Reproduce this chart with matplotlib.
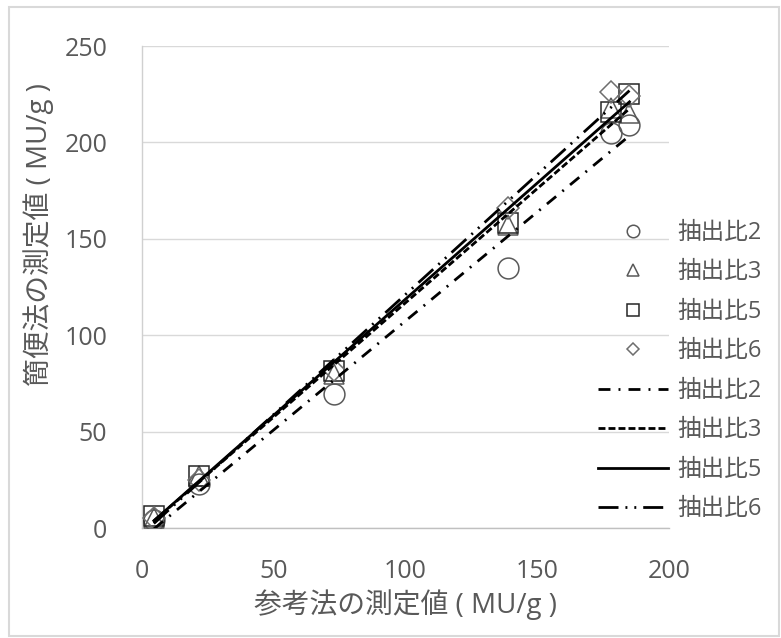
import numpy as np
import matplotlib
matplotlib.use("Agg")
import matplotlib.pyplot as plt
from matplotlib.patches import Rectangle

plt.rcParams['font.family'] = ['Open Sans', 'Noto Sans CJK JP', 'DejaVu Sans']

# Data
ref_x = [4.5, 21.5, 73, 139, 178, 185]
series_names = ["抽出比2", "抽出比3", "抽出比5", "抽出比6"]
y_ratio2 = [4, 23, 69.5, 135, 205, 209]
y_ratio3 = [5, 27, 80, 157, 218, 215]
y_ratio5 = [6, 27, 81.5, 158, 216, 225]
y_ratio6 = [5, 25, 82, 166, 226, 224]
x_ticks = [0, 50, 100, 150, 200]
y_ticks = [0, 50, 100, 150, 200, 250]
x_label = "参考法の測定値 ( MU/g )"
y_label = "簡便法の測定値 ( MU/g )"

series = [y_ratio2, y_ratio3, y_ratio5, y_ratio6]
markers = ['o', '^', 's', 'D']
msizes = [15, 14, 14, 11]
mcolors = ['#595959', '#595959', '#262626', '#6e6e6e']
lw = 2.0
linestyles = [(0, (4.3, 2.9, 0.7, 2.9)),
              (0, (2.5, 1.1)),
              '-',
              (0, (7.2, 2.5, 0.7, 2.5, 0.7, 2.5))]

W, H = 781, 638
fig = plt.figure(figsize=(W / 100, H / 100), dpi=100)
ax = fig.add_axes([142 / W, 1 - 528 / H, (669 - 142) / W, (528 - 46) / H])

text_color = '#595959'
x = np.array(ref_x)

handles_m = []
for ys, m, ms, mc, name in zip(series, markers, msizes, mcolors, series_names):
    h, = ax.plot(x, ys, linestyle='none', marker=m, markersize=ms,
                 markerfacecolor='none', markeredgecolor=mc, markeredgewidth=1.1,
                 label=name, zorder=3)
    handles_m.append(h)

handles_l = []
for ys, ls, name in zip(series, linestyles, series_names):
    k, b = np.polyfit(x, ys, 1)
    xx = np.array([x.min(), x.max()])
    h, = ax.plot(xx, k * xx + b, color='black', linestyle=ls, linewidth=lw,
                 label=name, zorder=4)
    handles_l.append(h)

ax.set_xlim(0, 200)
ax.set_ylim(0, 250)
ax.set_xticks(x_ticks)
ax.set_yticks(y_ticks)
ax.tick_params(axis='both', length=0, labelsize=18, labelcolor=text_color)
ax.tick_params(axis='x', pad=22)
ax.tick_params(axis='y', pad=25)
ax.grid(axis='y', color='#d9d9d9', linewidth=1.0)
ax.set_axisbelow(True)
for s in ['top', 'right']:
    ax.spines[s].set_visible(False)
ax.spines['left'].set_color('#d0d0d0')
ax.spines['bottom'].set_color('#c0c0c0')
ax.spines['left'].set_linewidth(1.0)
ax.spines['bottom'].set_linewidth(1.0)

ax.set_xlabel(x_label, fontsize=20, color=text_color, va='center')
ax.set_ylabel(y_label, fontsize=20, color=text_color, va='center')
ax.xaxis.set_label_coords(0.5, -(605 - 528) / (528 - 46))
ax.yaxis.set_label_coords((38.5 - 142) / (669 - 142), (528 - 234) / (528 - 46))

leg = fig.legend(handles=handles_m + handles_l, labels=series_names * 2,
                 loc='upper left', bbox_to_anchor=(598 / W, 1 - 221 / H),
                 frameon=False, fontsize=17, markerscale=0.6,
                 handlelength=2.96, handletextpad=0.38, labelspacing=0.655,
                 borderpad=0, borderaxespad=0)
for t in leg.get_texts():
    t.set_color(text_color)

fig.patches.append(Rectangle((9 / W, 1 - 636 / H), (779 - 9) / W, (636 - 7) / H,
                             transform=fig.transFigure, fill=False,
                             edgecolor='#d9d9d9', linewidth=1.5))

fig.savefig('out.png', dpi=100)
